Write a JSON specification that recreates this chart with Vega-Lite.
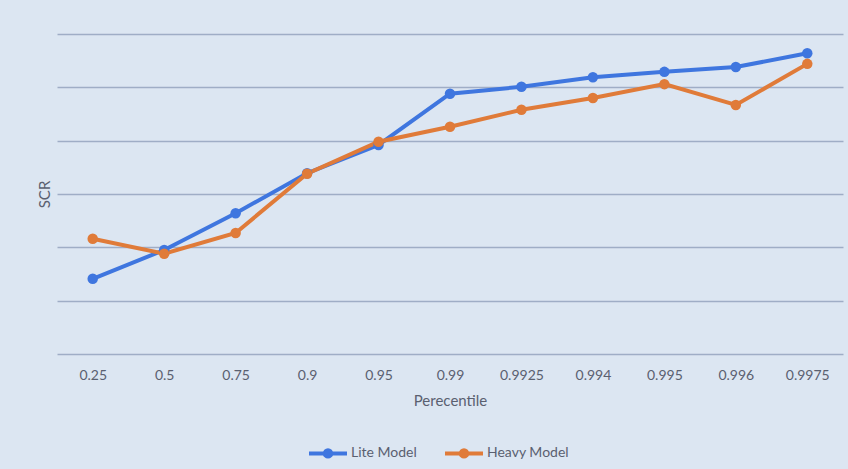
{
  "$schema": "https://vega.github.io/schema/vega-lite/v6.json",
  "autosize": "none",
  "width": 786,
  "height": 320,
  "padding": {"left": 57, "top": 34, "right": 5, "bottom": 115},
  "background": "#dce6f2",
  "config": {
    "view": {"stroke": null},
    "font": "Lato",
    "axis": {"labelFont": "Lato", "titleFont": "Lato", "labelColor": "#5a6070", "titleColor": "#5a6070"}
  },
  "data": {
    "values": [
      {"p": "0.25", "series": "Lite Model", "v": 1.41},
      {"p": "0.5", "series": "Lite Model", "v": 1.95},
      {"p": "0.75", "series": "Lite Model", "v": 2.64},
      {"p": "0.9", "series": "Lite Model", "v": 3.39},
      {"p": "0.95", "series": "Lite Model", "v": 3.92},
      {"p": "0.99", "series": "Lite Model", "v": 4.88},
      {"p": "0.9925", "series": "Lite Model", "v": 5.01},
      {"p": "0.994", "series": "Lite Model", "v": 5.19},
      {"p": "0.995", "series": "Lite Model", "v": 5.29},
      {"p": "0.996", "series": "Lite Model", "v": 5.38},
      {"p": "0.9975", "series": "Lite Model", "v": 5.64},
      {"p": "0.25", "series": "Heavy Model", "v": 2.16},
      {"p": "0.5", "series": "Heavy Model", "v": 1.88},
      {"p": "0.75", "series": "Heavy Model", "v": 2.27},
      {"p": "0.9", "series": "Heavy Model", "v": 3.38},
      {"p": "0.95", "series": "Heavy Model", "v": 3.98},
      {"p": "0.99", "series": "Heavy Model", "v": 4.26},
      {"p": "0.9925", "series": "Heavy Model", "v": 4.58},
      {"p": "0.994", "series": "Heavy Model", "v": 4.80},
      {"p": "0.995", "series": "Heavy Model", "v": 5.06},
      {"p": "0.996", "series": "Heavy Model", "v": 4.67},
      {"p": "0.9975", "series": "Heavy Model", "v": 5.44}
    ]
  },
  "encoding": {
    "x": {
      "field": "p", "type": "ordinal", "sort": null,
      "scale": {"paddingInner": 0, "paddingOuter": 0.5},
      "axis": {"title": "Perecentile", "labelAngle": 0, "domain": false, "ticks": false, "labelPadding": 14, "labelFontSize": 14, "titleFontSize": 15, "titleFontWeight": "normal", "titlePadding": 11}
    },
    "y": {
      "field": "v", "type": "quantitative",
      "scale": {"domain": [0, 6], "nice": false},
      "axis": {"title": "SCR", "labels": false, "ticks": false, "domain": false, "values": [0, 1, 2, 3, 4, 5, 6], "grid": true, "gridColor": "#9fadc6", "gridWidth": 1.5, "titleFontSize": 15, "titleFontWeight": "normal", "titlePadding": 5}
    },
    "color": {
      "field": "series", "type": "nominal", "sort": ["Lite Model", "Heavy Model"],
      "scale": {"domain": ["Lite Model", "Heavy Model"], "range": ["#3f76df", "#e07b39"]},
      "legend": {
        "title": null, "orient": "none", "direction": "horizontal",
        "legendX": 250, "legendY": 398,
        "symbolType": "M-1,0L1,0M-0.17,0A0.17,0.17 0 1,1 0.17,0A0.17,0.17 0 1,1 -0.17,0",
        "symbolSize": 1444, "symbolStrokeWidth": 4,
        "labelFontSize": 14, "labelColor": "#5a6070", "labelOffset": 2, "columnPadding": 20,
        "encode": {"symbols": {"update": {"fill": {"scale": "color", "field": "value"}}}}
      }
    }
  },
  "mark": {"type": "line", "strokeWidth": 4, "point": {"filled": true, "size": 110}}
}
